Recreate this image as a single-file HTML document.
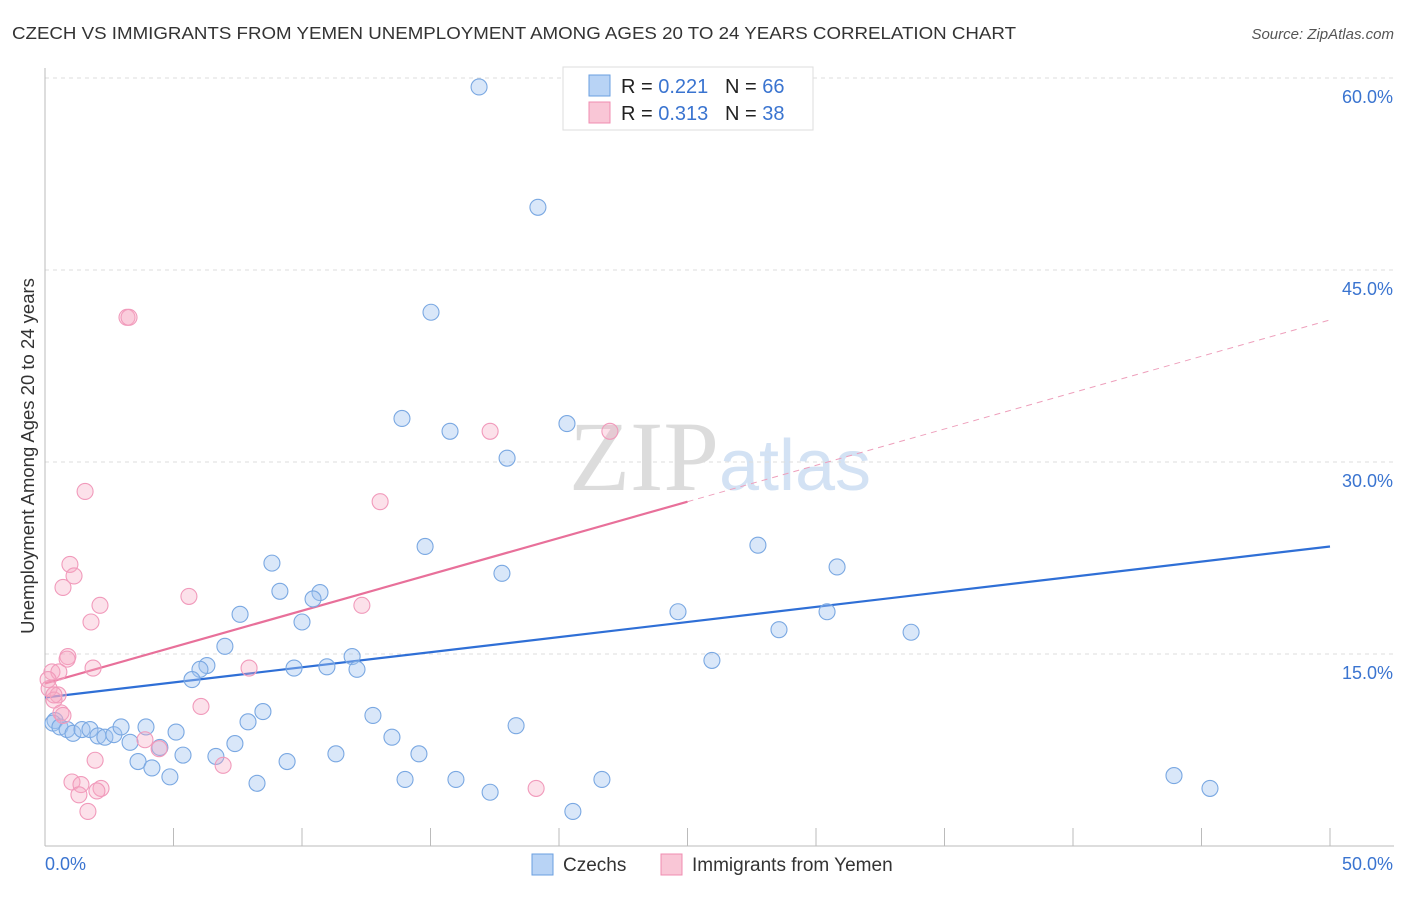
<!DOCTYPE html>
<html><head><meta charset="utf-8"><style>
body{margin:0;background:#fff;font-family:"Liberation Sans",sans-serif;}
svg text{font-family:"Liberation Sans",sans-serif;}
</style></head><body>
<svg id="c" width="1406" height="892">
<text x="12" y="39" font-size="17.5" fill="#333" textLength="1004" lengthAdjust="spacingAndGlyphs">CZECH VS IMMIGRANTS FROM YEMEN UNEMPLOYMENT AMONG AGES 20 TO 24 YEARS CORRELATION CHART</text>
<text x="1394" y="39" font-size="15" fill="#555" font-style="italic" text-anchor="end">Source: ZipAtlas.com</text>
<text x="720" y="490" font-size="100" fill="#ddd" text-anchor="middle" font-family="Liberation Serif"><tspan fill="#dcdcdc" font-family="Liberation Serif">ZIP</tspan><tspan fill="#d3e2f4" font-family="Liberation Sans" font-size="72">atlas</tspan></text>
<g id="grid"></g><g id="axes"></g><g id="trend"></g><g id="pts"></g>
<text transform="translate(34,456) rotate(-90)" font-size="18.5" fill="#333" text-anchor="middle">Unemployment Among Ages 20 to 24 years</text>
<g>
<rect x="563" y="67" width="250" height="63" fill="#fff" stroke="#ddd"/>
<rect x="589" y="75" width="21" height="21" fill="#b8d3f5" stroke="#6a9fe0"/>
<rect x="589" y="102" width="21" height="21" fill="#f9c6d6" stroke="#f08cb0"/>
<text x="621" y="93" font-size="20" fill="#222">R = <tspan fill="#3a74d0">0.221</tspan>&#160;&#160;&#160;N = <tspan fill="#3a74d0">66</tspan></text>
<text x="621" y="120" font-size="20" fill="#222">R = <tspan fill="#3a74d0">0.313</tspan>&#160;&#160;&#160;N = <tspan fill="#3a74d0">38</tspan></text>
</g>
<g>
<rect x="532" y="854" width="21" height="21" fill="#b8d3f5" stroke="#6a9fe0"/>
<text x="563" y="871" font-size="19" fill="#333">Czechs</text>
<rect x="661" y="854" width="21" height="21" fill="#f9c6d6" stroke="#f08cb0"/>
<text x="692" y="871" font-size="19" fill="#333">Immigrants from Yemen</text>
</g>
</svg>
<script>
const yTicks=[15,30,45,60];
const yTickLabels=["15.0%","30.0%","45.0%","60.0%"];
const xEnds=[0,50];
const xEndLabels=["0.0%","50.0%"];
const czX=[16.89,19.18,15.02,13.89,15.76,20.31,17.98,14.79,27.74,8.83,30.82,17.78,9.14,10.70,10.43,7.59,24.63,30.43,10.0,28.56,33.70,7.0,11.95,6.30,6.03,9.69,10.97,12.14,5.72,25.95,8.48,12.76,7.90,18.33,0.39,0.31,0.58,0.86,1.09,1.44,1.75,2.06,2.33,2.68,2.96,3.93,5.10,3.31,4.47,5.37,6.65,7.39,11.32,13.50,14.55,3.62,4.16,4.86,8.25,9.42,14.01,15.99,17.32,21.67,20.54,43.93,45.33];
const czY=[59.3,49.9,41.7,33.4,32.4,33.0,30.3,23.4,23.5,22.1,21.8,21.3,19.9,19.8,19.3,18.1,18.3,18.3,17.5,16.9,16.7,15.6,14.8,14.1,13.8,13.9,14.0,13.8,13.0,14.5,10.5,10.2,9.7,9.4,9.8,9.6,9.3,9.1,8.8,9.1,9.1,8.6,8.5,8.7,9.3,9.3,8.9,8.1,7.7,7.1,7.0,8.0,7.2,8.5,7.2,6.6,6.1,5.4,4.9,6.6,5.2,5.2,4.2,5.2,2.7,5.5,4.5];
const yeX=[3.19,3.27,1.56,13.04,17.32,21.98,0.97,1.13,0.70,5.60,2.14,12.33,1.79,0.89,0.86,1.87,7.94,0.27,0.54,0.12,0.16,0.51,0.35,0.62,0.70,6.07,3.89,4.44,1.95,6.93,1.05,1.40,2.18,2.02,1.32,1.67,19.11,0.35];
const yeY=[41.3,41.3,27.7,26.9,32.4,32.4,22.0,21.1,20.2,19.5,18.8,18.8,17.5,14.8,14.6,13.9,13.9,13.6,13.6,13.0,12.3,11.8,11.4,10.4,10.2,10.9,8.3,7.6,6.7,6.3,5.0,4.8,4.5,4.3,4.0,2.7,4.5,11.8];
const czTrend=[11.6,23.4];
const yeTrend=[12.7,41.1];
const yeSolidEnd=25;
const NS="http://www.w3.org/2000/svg";
const X=v=>45+v*25.7, Y=v=>846-v*12.8;
function mk(t,a,p){const e=document.createElementNS(NS,t);for(const k in a)e.setAttribute(k,a[k]);p.appendChild(e);return e;}
const grid=document.getElementById('grid'),axes=document.getElementById('axes'),tr=document.getElementById('trend'),pts=document.getElementById('pts');
yTicks.forEach((t,i)=>{
 const l=mk('line',{x1:45,x2:1394,y1:Y(t),y2:Y(t),stroke:'#ddd','stroke-dasharray':'4,4'},grid);
 
 
 const tx=mk('text',{x:1393,y:Y(t)+25,'font-size':18,fill:'#3a74d0','text-anchor':'end'},axes);
 tx.textContent=yTickLabels[i];
 
 
});
const xa=mk('line',{x1:45,x2:1394,y1:846,y2:846,stroke:'#bbb'},axes);


const ya=mk('line',{x1:45,x2:45,y1:68,y2:846,stroke:'#bbb'},axes);


for(let i=0;i<=10;i++){
 const l=mk('line',{x1:X(i*5),x2:X(i*5),y1:828,y2:846,stroke:'#bbb'},axes);
 
 
}
xEnds.forEach((v,i)=>{
 const tx=mk('text',{x:i?1393:45,y:870,'font-size':18,fill:'#3a74d0','text-anchor':i?'end':'start'},axes);
 tx.textContent=xEndLabels[i];
 
 
});
function dots(xs,ys,fill,stroke,name){xs.forEach((x,i)=>{
 const c=mk('circle',{cx:X(x),cy:Y(ys[i]),r:8,fill:fill,stroke:stroke,'stroke-width':1.1},pts);
 
 
});}
dots(czX,czY,'rgba(160,196,240,0.4)','#7aa8e2','czech-point');
dots(yeX,yeY,'rgba(245,170,195,0.35)','#f19abb','yemen-point');
const ly=v=>yeTrend[0]+(yeTrend[1]-yeTrend[0])*v/50;
const a=mk('line',{x1:X(0),y1:Y(czTrend[0]),x2:X(50),y2:Y(czTrend[1]),stroke:'#2f6fd6','stroke-width':2.2},tr);


const b=mk('line',{x1:X(0),y1:Y(ly(0)),x2:X(yeSolidEnd),y2:Y(ly(yeSolidEnd)),stroke:'#e8709a','stroke-width':2.2},tr);


const d=mk('line',{x1:X(yeSolidEnd),y1:Y(ly(yeSolidEnd)),x2:X(50),y2:Y(ly(50)),stroke:'#eea0bc','stroke-width':1,'stroke-dasharray':'6,5'},tr);


</script>
</body></html>
